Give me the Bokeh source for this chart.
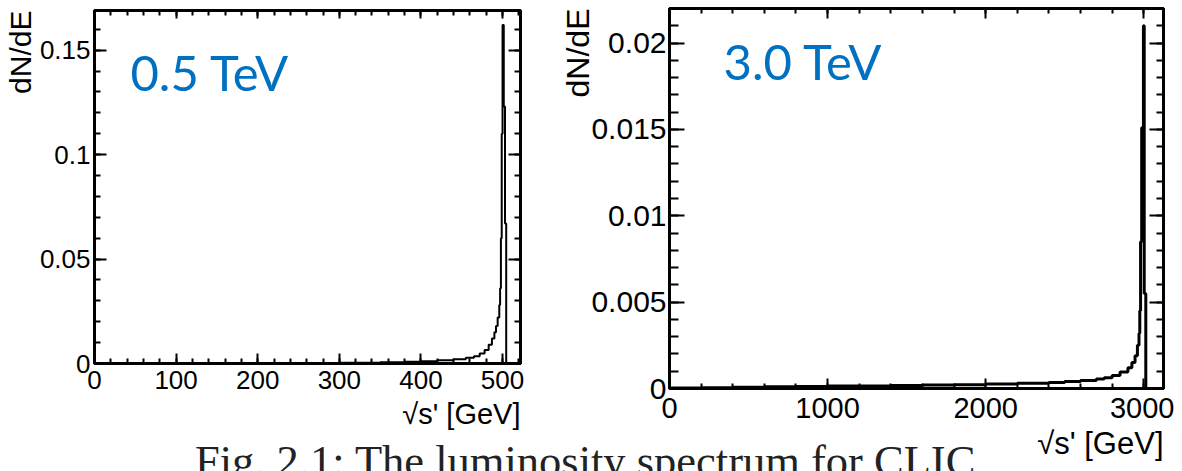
import numpy as np
from bokeh.plotting import figure
from bokeh.models import (FixedTicker, LinearAxis, Label, CustomJSTickFormatter, Range1d,
                          Title, Div)
from bokeh.layouts import row, column
from bokeh.embed import file_html
from bokeh.resources import INLINE

# ---------------- data ----------------
# 0.5 TeV luminosity spectrum: histogram bin edges [GeV] and dN/dE per bin
edges_05 = [0, 100, 200, 300, 350, 380, 400, 420, 440, 455, 465, 472, 478, 483,
            487, 490, 492, 494, 496, 497, 498, 499, 500, 501.5, 503, 504.5, 522]
dnde_05 = [0.0001, 0.0001, 0.0002, 0.0004, 0.0006, 0.0008, 0.0011, 0.0015, 0.002,
           0.0027, 0.0035, 0.0048, 0.0065, 0.009, 0.012, 0.015, 0.018, 0.022,
           0.028, 0.036, 0.06, 0.11, 0.162, 0.123, 0.067, 0.0]

# 3.0 TeV luminosity spectrum
edges_30 = [0, 200, 400, 600, 800, 1000, 1200, 1400, 1600, 1800, 2000, 2200, 2400,
            2500, 2600, 2700, 2750, 2800, 2850, 2900, 2925, 2945, 2960, 2970, 2975,
            2980, 2987, 2998, 3003, 3013, 3125]
dnde_30 = [0.00003, 0.00005, 0.00007, 0.0001, 0.00012, 0.00014, 0.00015, 0.00017,
           0.0002, 0.00022, 0.00026, 0.0003, 0.00035, 0.0004, 0.00047, 0.00055,
           0.00062, 0.00075, 0.00095, 0.0012, 0.0015, 0.0019, 0.0025, 0.0032,
           0.0045, 0.0085, 0.0151, 0.021, 0.0055, 0.0]

xticks_05 = [0, 100, 200, 300, 400, 500]
xlabels_05 = ["0", "100", "200", "300", "400", "500"]
yticks_05 = [0, 0.05, 0.1, 0.15]
ylabels_05 = ["0", "0.05", "0.1", "0.15"]

xticks_30 = [0, 1000, 2000, 3000]
xlabels_30 = ["0", "1000", "2000", "3000"]
yticks_30 = [0, 0.005, 0.01, 0.015, 0.02]
ylabels_30 = ["0", "0.005", "0.01", "0.015", "0.02"]

panel_titles = ["0.5 TeV", "3.0 TeV"]
x_title = "\u221As' [GeV]"
y_title = "dN/dE"
caption = "Fig. 2.1: The luminosity spectrum for CLIC"

# ---------------- styling helpers ----------------
AXIS_FONT = "Liberation Sans"
TITLE_BLUE = "#0070C0"
CODE = """
for (let i = 0; i < t.length; i++) {
  if (Math.abs(tick - t[i]) < 1e-9 * Math.max(1, Math.abs(t[i]))) return l[i];
}
return "";
"""


def minors(start, stop, step):
    return [round(v, 6) for v in np.arange(start, stop + step / 2, step)]


def style_axis(ax, ticks, minor_ticks, labels, font_size, maj_in, min_in, standoff, show=True):
    ax.ticker = FixedTicker(ticks=ticks, minor_ticks=minor_ticks)
    ax.formatter = CustomJSTickFormatter(
        args=dict(t=ticks, l=(labels if show else [""] * len(ticks))), code=CODE)
    ax.major_tick_in = maj_in
    ax.major_tick_out = 0
    ax.minor_tick_in = min_in
    ax.minor_tick_out = 0
    ax.major_tick_line_width = 2
    ax.minor_tick_line_width = 2
    ax.major_tick_line_color = "black"
    ax.minor_tick_line_color = "black"
    ax.axis_line_width = 3
    ax.axis_line_color = "black"
    ax.major_label_text_font = AXIS_FONT
    ax.major_label_text_color = "black"
    if show:
        ax.major_label_text_font_size = font_size
        ax.major_label_standoff = standoff
    else:
        ax.major_label_text_font_size = "0px"
        ax.major_label_standoff = 0


def make_panel(edges, vals, xr, yr, width, height, borders, lw):
    bl, br, bt, bb = borders
    p = figure(width=width, height=height, x_range=Range1d(*xr), y_range=Range1d(*yr),
               output_backend="svg", toolbar_location=None,
               min_border_left=bl, min_border_right=br, min_border_top=bt,
               min_border_bottom=bb)
    p.frame_align = False
    p.xgrid.visible = False
    p.ygrid.visible = False
    p.outline_line_color = "black"
    p.outline_line_width = 3
    p.background_fill_color = "white"
    p.border_fill_color = "white"
    p.step(x=list(edges), y=list(vals) + [vals[-1]], mode="after",
           line_color="black", line_width=lw)
    return p


def axis_title(text, size, align, standoff):
    return Title(text=text, align=align, text_font=AXIS_FONT, text_font_size=size,
                 text_font_style="normal", text_color="black", standoff=standoff)


# ---------------- left panel (0.5 TeV) ----------------
p1 = make_panel(edges_05, dnde_05, (0, 522), (0, 0.169), 560, 471, (94, 40, 10, 108), 2)
style_axis(p1.xaxis[0], xticks_05, minors(0, 520, 20), xlabels_05, "26px", 10, 5, 7)
style_axis(p1.yaxis[0], yticks_05, minors(0, 0.17, 0.01), ylabels_05, "26px", 12, 6, 4)
top1 = LinearAxis()
right1 = LinearAxis()
p1.add_layout(top1, "above")
p1.add_layout(right1, "right")
style_axis(top1, xticks_05, minors(0, 520, 20), xlabels_05, "0px", 8, 5, 0, show=False)
style_axis(right1, yticks_05, minors(0, 0.17, 0.01), ylabels_05, "0px", 12, 6, 0, show=False)
p1.add_layout(axis_title(x_title, "29px", "right", 9), "below")
p1.add_layout(axis_title(y_title, "30px", "right", 0), "left")

p1.add_layout(Label(x=44, y=0.1396, text=panel_titles[0], text_font="Lato",
                    text_font_size="49px", text_color=TITLE_BLUE,
                    text_align="left", text_baseline="middle"))

# ---------------- right panel (3.0 TeV) ----------------
p2 = make_panel(edges_30, dnde_30, (0, 3125), (0, 0.022), 614, 471, (109, 11, 8, 83), 3)
style_axis(p2.xaxis[0], xticks_30, minors(0, 3200, 200), xlabels_30, "29px", 10, 5, 9)
style_axis(p2.yaxis[0], yticks_30, minors(0, 0.022, 0.001), ylabels_30, "30px", 15, 9, 3)
top2 = LinearAxis()
right2 = LinearAxis()
p2.add_layout(top2, "above")
p2.add_layout(right2, "right")
style_axis(top2, xticks_30, minors(0, 3200, 200), xlabels_30, "0px", 10, 5, 0, show=False)
style_axis(right2, yticks_30, minors(0, 0.022, 0.001), ylabels_30, "0px", 14, 7, 0, show=False)
p2.add_layout(axis_title(x_title, "31px", "right", 6), "below")
p2.add_layout(axis_title(y_title, "32px", "right", -15), "left")

p2.add_layout(Label(x=341.6, y=0.01896, text=panel_titles[1], text_font="Lato",
                    text_font_size="49px", text_color=TITLE_BLUE,
                    text_align="left", text_baseline="middle"))

# ---------------- caption (partly cut by the bottom edge, as in the reference) ----------------
cap = Div(text=caption, width=900, height=32,
          styles={"margin-top": "-32px", "margin-left": "195px", "overflow": "hidden",
                  "position": "relative", "z-index": "5", "white-space": "nowrap",
                  "font-family": "'Liberation Serif', serif", "font-size": "44.5px",
                  "line-height": "44px", "color": "#222222"})

layout = column(row(p1, p2), cap)
open("out.html", "w").write(file_html(layout, INLINE))
